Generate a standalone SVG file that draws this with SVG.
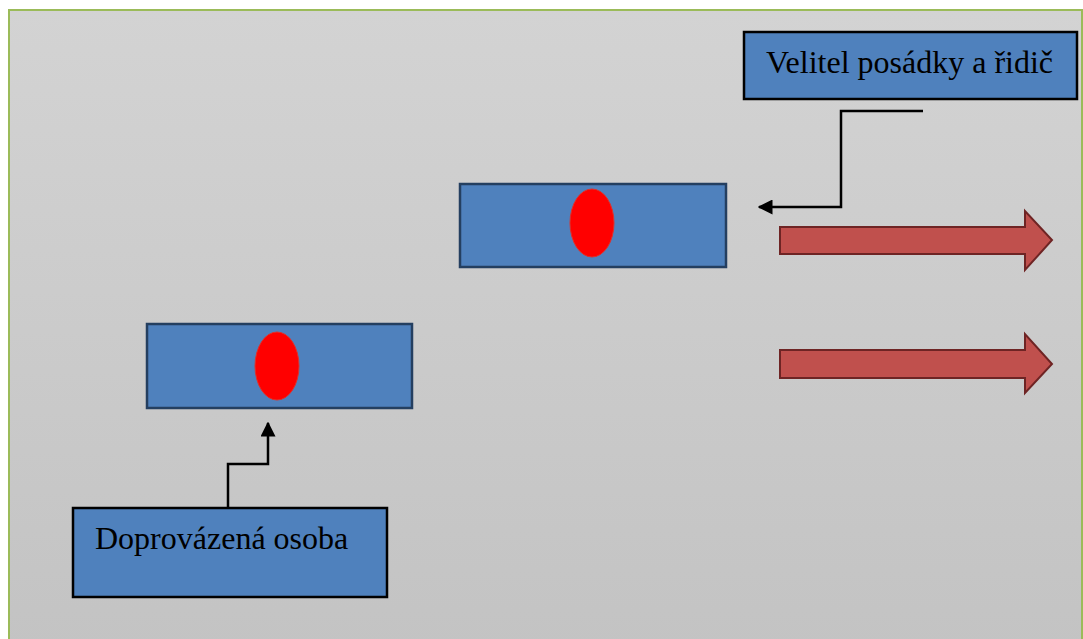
<svg xmlns="http://www.w3.org/2000/svg" width="1083" height="639" viewBox="0 0 1083 639">
<style>
.lbl{fill:#4f81bd;stroke:#000;stroke-width:2.5}
.car{fill:#4f81bd;stroke:#243f60;stroke-width:2.5}
.dot{fill:#ff0000;stroke:#e0302a;stroke-width:1}
.txt{font-family:"Liberation Serif","Times New Roman",serif;font-size:32px;fill:#000}
.con{fill:none;stroke:#000;stroke-width:2.5}
.big{fill:#c0504d;stroke:#6e2424;stroke-width:2}
</style>
<defs>
<linearGradient id="bg" x1="0" y1="0" x2="0" y2="1">
<stop offset="0" stop-color="#d3d3d3"/>
<stop offset="1" stop-color="#c3c3c3"/>
</linearGradient>
<marker id="ah" viewBox="0 0 10 10" refX="9" refY="5" markerWidth="6" markerHeight="6" markerUnits="strokeWidth" orient="auto">
<path d="M0,0 L10,5 L0,10 Z" fill="#000"/>
</marker>
</defs>
<rect x="0" y="0" width="1083" height="639" fill="#ffffff"/>
<rect x="9" y="10" width="1073" height="640" fill="url(#bg)" stroke="#9bbb59" stroke-width="2"/>
<g id="velitel">
<rect class="lbl" x="744" y="32" width="333" height="67"/>
<text class="txt" x="766" y="73">Velitel posádky a řidič</text>
</g>
<g id="car-top">
<rect class="car" x="460" y="184" width="266" height="83"/>
<ellipse class="dot" cx="592" cy="223" rx="22" ry="34"/>
</g>
<g id="car-bottom">
<rect class="car" x="147" y="324" width="265" height="84"/>
<ellipse class="dot" cx="277" cy="366" rx="22" ry="34"/>
</g>
<g id="doprovazena">
<rect class="lbl" x="73" y="508" width="314" height="89"/>
<text class="txt" x="95" y="549">Doprovázená osoba</text>
</g>
<g id="arrow-1">
<path class="big" d="M780,227 L1025,227 L1025,211 L1052,240 L1025,270 L1025,254 L780,254 Z"/>
</g>
<g id="arrow-2">
<path class="big" d="M780,350 L1025,350 L1025,334 L1052,364 L1025,393 L1025,378 L780,378 Z"/>
</g>
<g id="connectors">
<path class="con" d="M923,111 L841,111 L841,207 L759,207" marker-end="url(#ah)"/>
<path class="con" d="M228,508 L228,464 L268,464 L268,423" marker-end="url(#ah)"/>
</g>
</svg>
